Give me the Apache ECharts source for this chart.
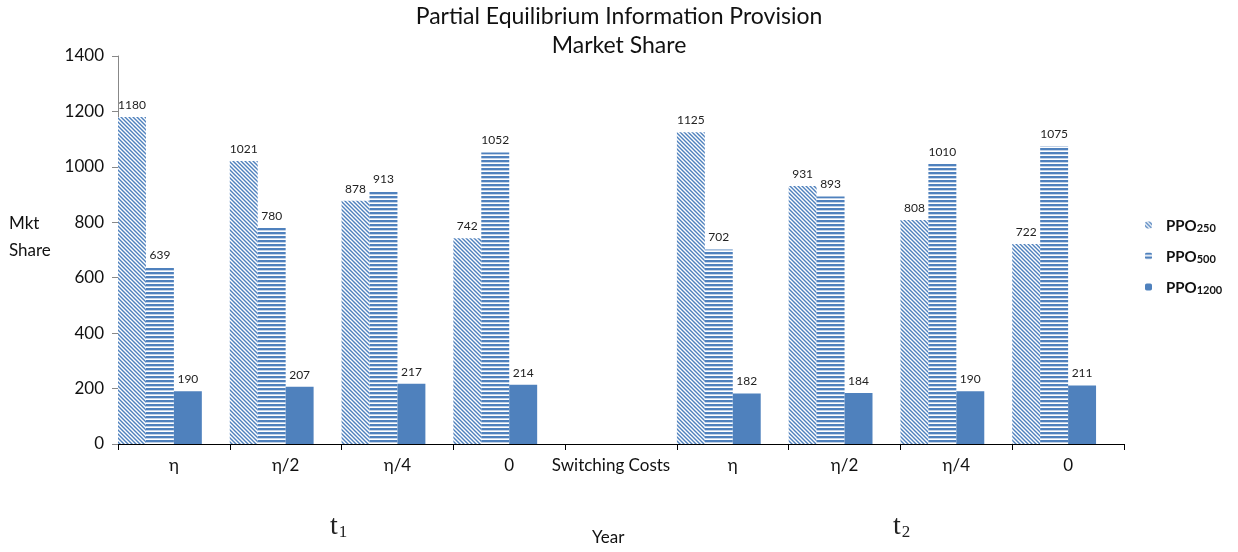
<!DOCTYPE html>
<html>
<head>
<meta charset="utf-8">
<script src="https://cdn.jsdelivr.net/npm/echarts@6/dist/echarts.min.js"></script>
<style>
  html, body { margin: 0; padding: 0; background: #fff; }
  #chart { width: 1238px; height: 552px; }
</style>
</head>
<body>
<div id="chart"></div>
<script>
// Categories along the switching-cost axis (two periods separated by the axis title slot)
const categories = ['η', 'η/2', 'η/4', '0', 'Switching Costs', 'η', 'η/2', 'η/4', '0'];
// Market share per plan type
const ppo250  = [1180, 1021, 878, 742, null, 1125, 931, 808, 722];
const ppo500  = [639, 780, 913, 1052, null, 702, 893, 1010, 1075];
const ppo1200 = [190, 207, 217, 214, null, 182, 184, 190, 211];
const yTicks = { min: 0, max: 1400, interval: 200 };

const BLUE = '#4F81BD';
const FONT = 'Lato, "Open Sans", sans-serif';
const SERIF = '"Liberation Serif", "DejaVu Serif", serif';

// Diagonal hatch fill
function diagPattern() {
  const s = 4, c = document.createElement('canvas');
  c.width = s; c.height = s;
  const g = c.getContext('2d');
  g.fillStyle = '#fff'; g.fillRect(0, 0, s, s);
  g.strokeStyle = BLUE; g.lineWidth = 1.4;
  g.beginPath();
  g.moveTo(-1, -1); g.lineTo(s + 1, s + 1);
  g.moveTo(-1, s - 1); g.lineTo(1, s + 1);
  g.moveTo(s - 1, -1); g.lineTo(s + 1, 1);
  g.stroke();
  return c;
}
// Horizontal stripe fill
function horizPattern() {
  const c = document.createElement('canvas');
  c.width = 4; c.height = 4;
  const g = c.getContext('2d');
  g.fillStyle = '#fff'; g.fillRect(0, 0, 4, 4);
  g.fillStyle = BLUE; g.fillRect(0, 0, 4, 2);
  g.fillStyle = '#C3D3E8'; g.fillRect(0, 2, 4, 1);
  return c;
}

const chart = echarts.init(document.getElementById('chart'), null, { renderer: 'canvas' });

const label = {
  show: true, position: 'top', distance: 6,
  fontSize: 12, color: '#222', fontFamily: FONT
};

const legendNames = { 'PPO250': ['PPO', '250'], 'PPO500': ['PPO', '500'], 'PPO1200': ['PPO', '1200'] };

function subscriptText(base, sub) {
  return { text: '{t|' + base + '}{s|' + sub + '}', rich: {
    t: { fontFamily: SERIF, fontSize: 28, fill: '#222' },
    s: { fontFamily: SERIF, fontSize: 17, fill: '#222', padding: [12, 0, 0, 1] } } };
}

// The axis-title category sits slightly left of its slot
const xData = categories.map(c => c === 'Switching Costs'
  ? { value: c, textStyle: { padding: [0, 20, 0, 0] } }
  : c);

chart.setOption({
  animation: false,
  title: {
    text: 'Partial Equilibrium Information Provision\nMarket Share',
    left: 'center', top: -3,
    textStyle: { fontFamily: FONT, fontSize: 23, fontWeight: 'normal', color: '#111', lineHeight: 29 }
  },
  legend: {
    data: ['PPO250', 'PPO500', 'PPO1200'],
    orient: 'vertical', left: 1145, top: 219, padding: 0,
    itemWidth: 7, itemHeight: 7, itemGap: 16,
    formatter: n => '{sp|}{a|' + legendNames[n][0] + '}{b|' + legendNames[n][1] + '}',
    textStyle: {
      rich: {
        sp: { width: 9 },
        a: { fontFamily: FONT, fontSize: 15, fontWeight: 'bold', color: '#111', verticalAlign: 'bottom' },
        b: { fontFamily: FONT, fontSize: 11, fontWeight: 'bold', color: '#111', padding: [7, 0, 0, 0], verticalAlign: 'bottom' }
      }
    }
  },
  grid: { left: 118, right: 114, top: 56, bottom: 108, containLabel: false },
  xAxis: {
    type: 'category', data: xData,
    axisLine: { lineStyle: { color: '#000', width: 1 } },
    axisTick: { show: true, length: 6, lineStyle: { color: '#000' } },
    axisLabel: { fontFamily: FONT, fontSize: 17, color: '#111', margin: 13, interval: 0 },
    splitLine: { show: false }
  },
  yAxis: {
    type: 'value', min: yTicks.min, max: yTicks.max, interval: yTicks.interval,
    axisLine: { show: true, lineStyle: { color: '#888' } },
    axisTick: { show: true, inside: false, length: 6, lineStyle: { color: '#888' } },
    axisLabel: { fontFamily: FONT, fontSize: 17, color: '#111', margin: 14, formatter: v => String(v) },
    splitLine: { show: false }
  },
  graphic: [
    { type: 'text', left: 9, top: 210,
      style: { text: 'Mkt\nShare', fontFamily: FONT, fontSize: 17, fill: '#111', lineHeight: 27, align: 'center' } },
    { type: 'text', left: 330, top: 513, style: subscriptText('t', '1') },
    { type: 'text', left: 893, top: 513, style: subscriptText('t', '2') },
    { type: 'text', left: 592, top: 529,
      style: { text: 'Year', fontFamily: FONT, fontSize: 17, fill: '#111' } }
  ],
  series: [
    { name: 'PPO250', type: 'bar', data: ppo250, barGap: '0%', barCategoryGap: '0%',
      itemStyle: { color: { image: diagPattern(), repeat: 'repeat' } }, label },
    { name: 'PPO500', type: 'bar', data: ppo500,
      itemStyle: { color: { image: horizPattern(), repeat: 'repeat' } }, label },
    { name: 'PPO1200', type: 'bar', data: ppo1200,
      itemStyle: { color: BLUE }, label },
    // empty fourth slot keeps each cluster left-aligned in its category
    { name: 'slot', type: 'bar', data: categories.map(() => null), silent: true }
  ]
});
</script>
</body>
</html>
